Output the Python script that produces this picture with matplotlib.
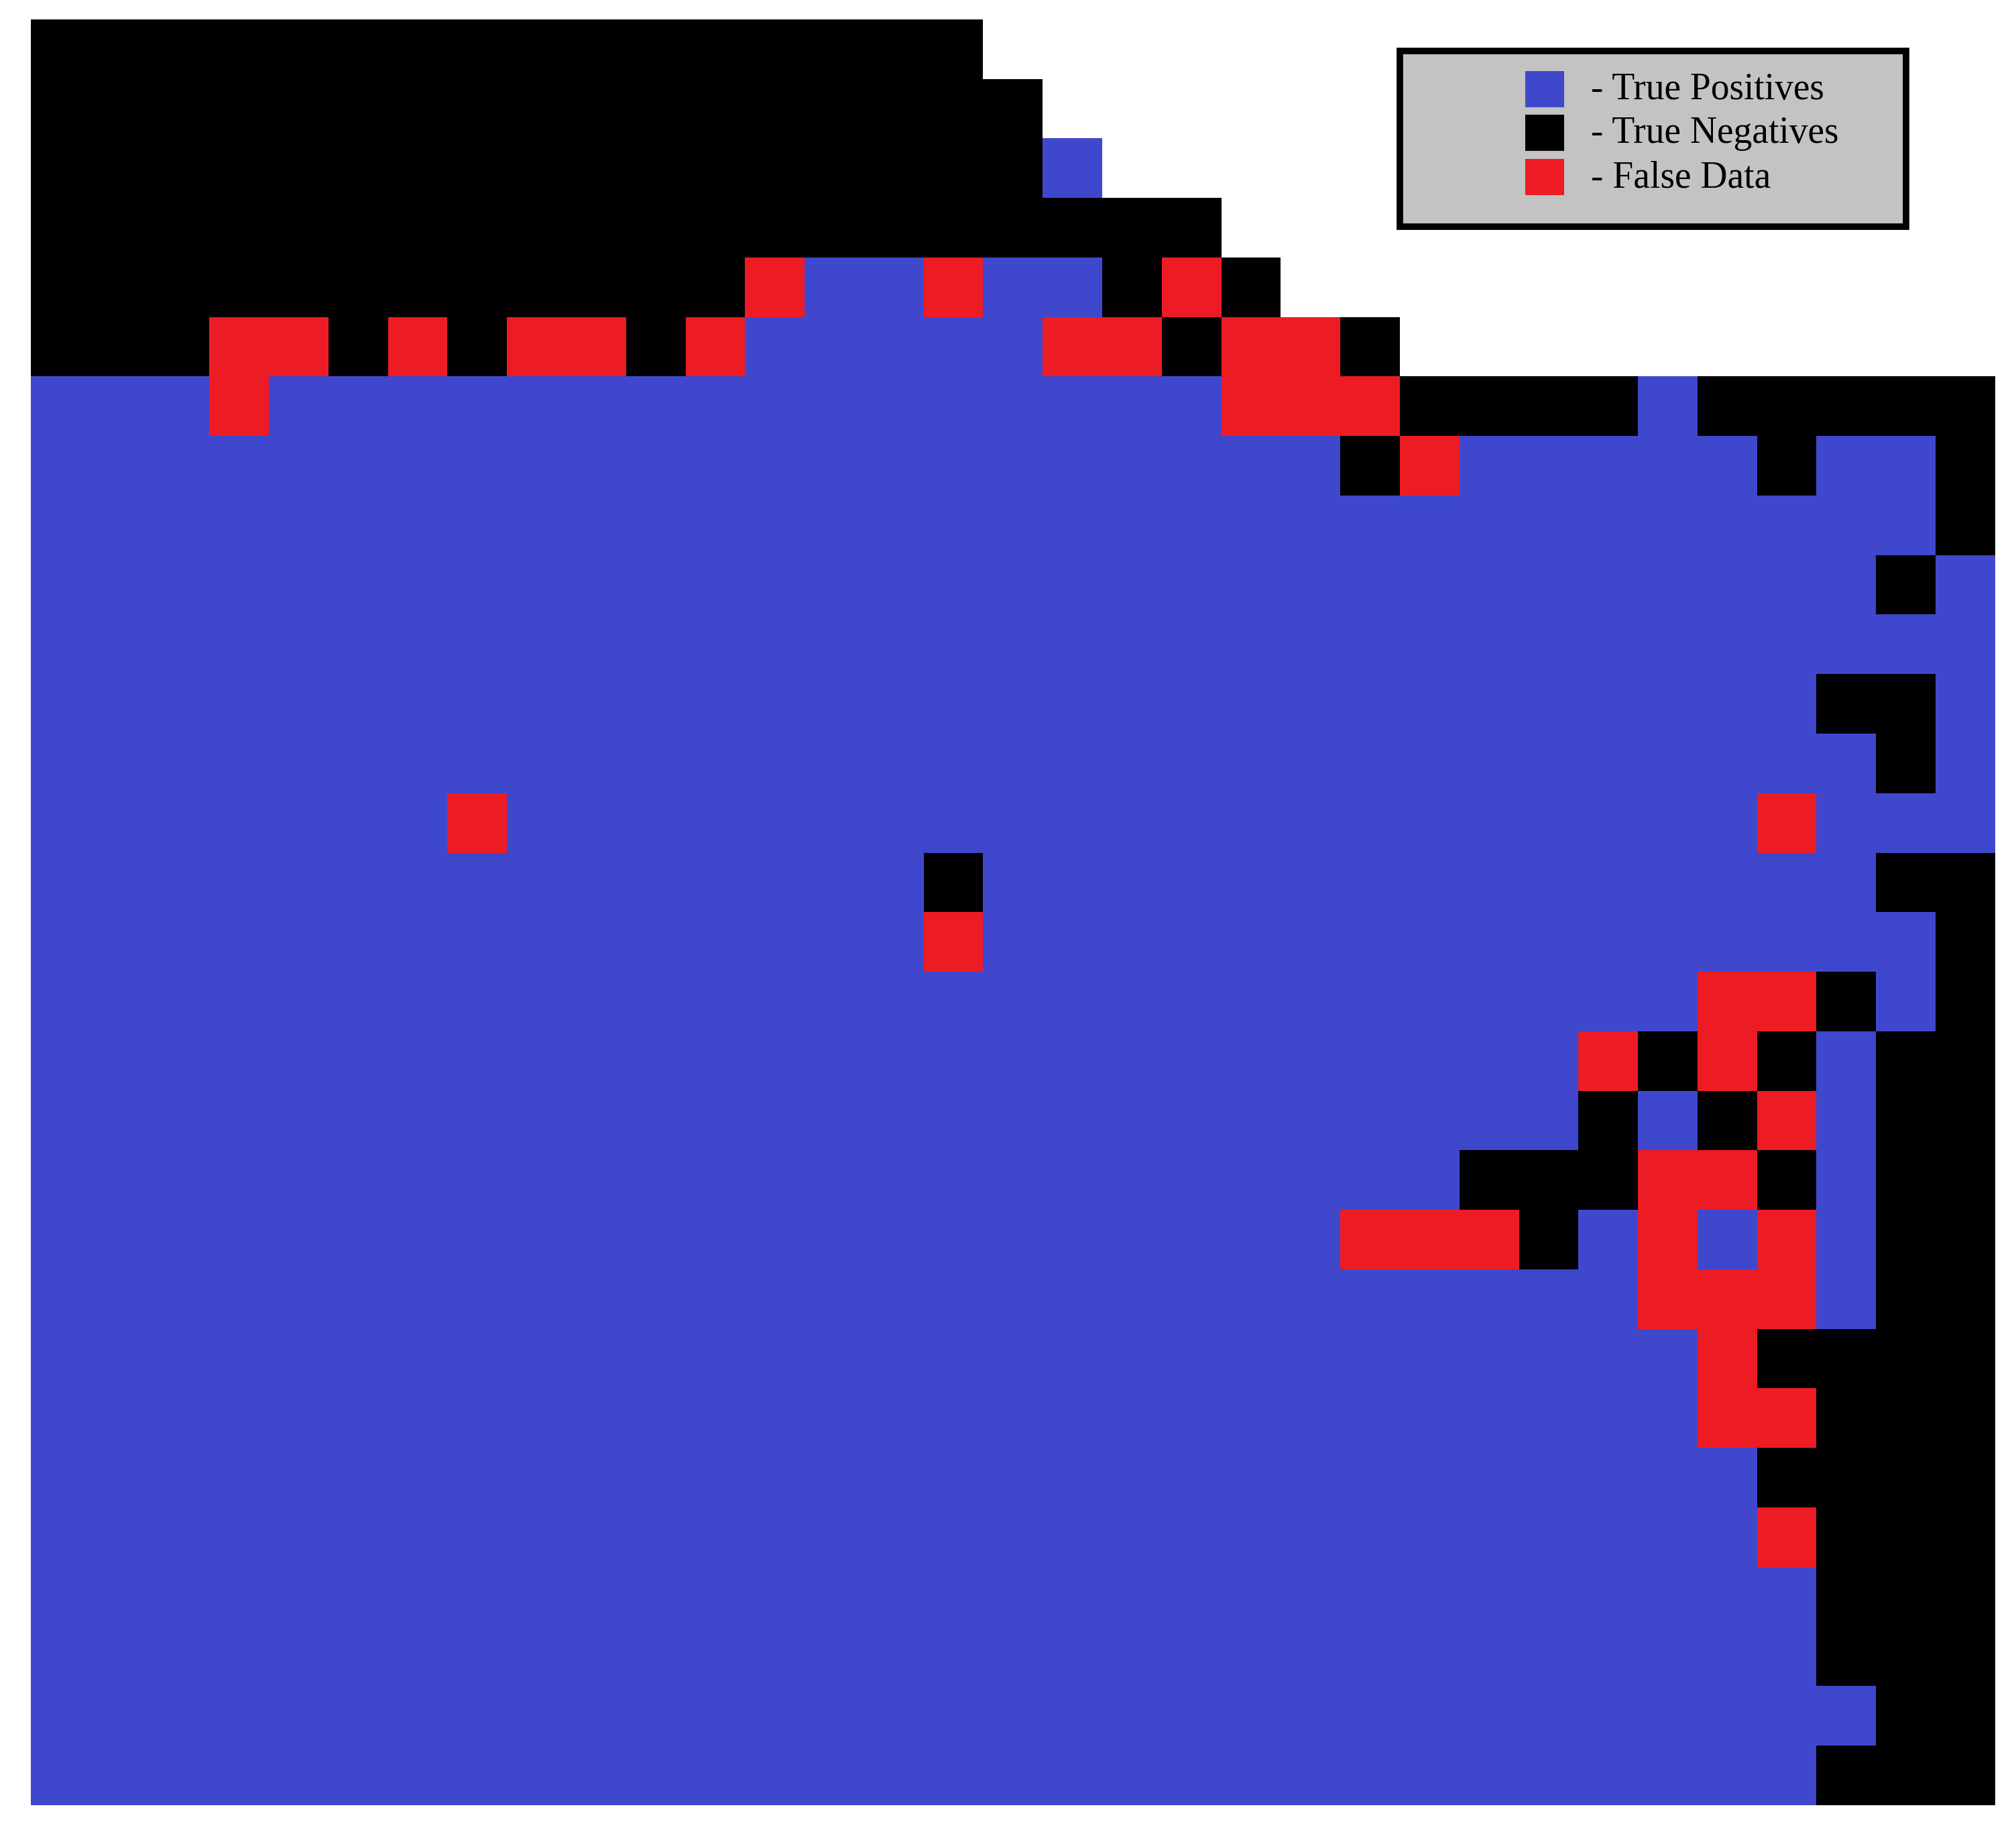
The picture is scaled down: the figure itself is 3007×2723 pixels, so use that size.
import matplotlib
matplotlib.use("Agg")
import matplotlib.pyplot as plt
import numpy as np
from matplotlib.colors import ListedColormap
from matplotlib.patches import Rectangle

# cell classes per grid row, top to bottom ('.' = no data)
# B = true positive, K = true negative, R = false data
rows = [
    "K" * 16 + "." * 17,
    "K" * 17 + "." * 16,
    "K" * 17 + "B" + "." * 15,
    "K" * 20 + "." * 13,
    "K" * 12 + "R" + "BB" + "R" + "BB" + "K" + "R" + "K" + "." * 12,
    "KKK" + "RR" + "K" + "R" + "K" + "RR" + "K" + "R" + "B" * 5 + "RR" + "K" + "RR" + "K" + "." * 10,
    "BBB" + "R" + "B" * 16 + "RRR" + "KKKK" + "B" + "K" * 5,
    "B" * 22 + "K" + "R" + "B" * 5 + "K" + "BB" + "K",
    "B" * 32 + "K",
    "B" * 31 + "K" + "B",
    "B" * 33,
    "B" * 30 + "KK" + "B",
    "B" * 31 + "K" + "B",
    "B" * 7 + "R" + "B" * 21 + "R" + "BBB",
    "B" * 15 + "K" + "B" * 15 + "KK",
    "B" * 15 + "R" + "B" * 16 + "K",
    "B" * 28 + "RR" + "K" + "B" + "K",
    "B" * 26 + "R" + "K" + "R" + "K" + "B" + "KK",
    "B" * 26 + "K" + "B" + "K" + "R" + "B" + "KK",
    "B" * 24 + "KKK" + "RR" + "K" + "B" + "KK",
    "B" * 22 + "RRR" + "K" + "B" + "R" + "B" + "R" + "B" + "KK",
    "B" * 27 + "RRR" + "B" + "KK",
    "B" * 28 + "R" + "KKKK",
    "B" * 28 + "RR" + "KKK",
    "B" * 29 + "KKKK",
    "B" * 29 + "R" + "KKK",
    "B" * 30 + "KKK",
    "B" * 30 + "KKK",
    "B" * 31 + "KK",
    "B" * 30 + "KKK",
]

codes = ["B", "K", "R"]
labels = ["- True Positives", "- True Negatives", "- False Data"]
colors = ["#3f48cc", "#000000", "#ed1c24"]

W, H = 3007, 2723
grid = np.array([[codes.index(c) if c in codes else -1 for c in r] for r in rows])
grid = np.ma.masked_less(grid, 0)

fig = plt.figure(figsize=(W / 100, H / 100), dpi=100)
ax = fig.add_axes([46 / W, (H - 2692) / H, 2930 / W, (2692 - 29) / H])
ax.imshow(grid, cmap=ListedColormap(colors), vmin=0, vmax=2,
          interpolation="nearest", aspect="auto")
ax.axis("off")


def fx(px):
    return px / W


def fy(py):
    return 1 - py / H


# legend box drawn in figure pixels
fig.add_artist(Rectangle((fx(2088), fy(338)), fx(2843) - fx(2088), fy(76) - fy(338),
                         transform=fig.transFigure, facecolor="#c3c3c3",
                         edgecolor="black", linewidth=7, zorder=5))
tops = [106, 171, 237]
for top, lab, col in zip(tops, labels, colors):
    fig.add_artist(Rectangle((fx(2275), fy(top + 54)), fx(58), 54 / H,
                             transform=fig.transFigure, facecolor=col,
                             edgecolor="none", zorder=6))
    fig.text(fx(2373), fy(top + 42), lab, fontsize=40, family="Liberation Serif",
             va="baseline", ha="left", zorder=7)

fig.savefig("out.png", dpi=100)
